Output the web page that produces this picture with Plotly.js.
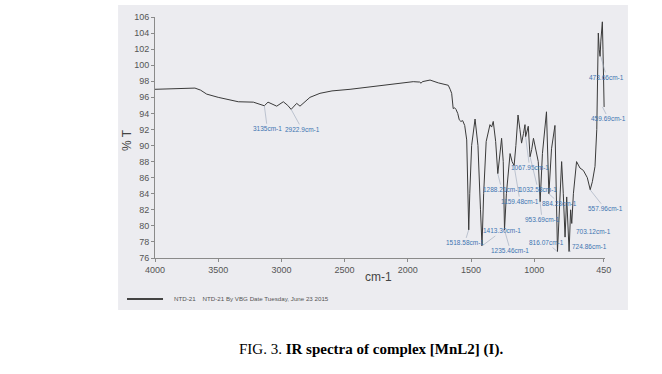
<!DOCTYPE html>
<html><head><meta charset="utf-8">
<script src="https://cdn.plot.ly/plotly-3.0.1.min.js"></script>
<style>html,body{margin:0;padding:0;background:#fff}#chart{width:662px;height:374px}</style>
</head><body><div id="chart"></div>
<script>
// Wavenumber (cm-1) and transmittance (%T)
const wavenumbers = [4000,3900,3800,3700,3684,3640,3591,3500,3400,3341,3222,3160,3135,3106,3070,3037,2985,2950,2923,2900,2879,2853,2820,2774,2695,2600,2457,2300,2194,2050,1957,1905,1895,1885,1824,1759,1700,1680,1665,1653,1641,1630,1619,1605,1593,1580,1566,1550,1534,1525,1518,1510,1495,1468,1445,1425,1413,1400,1380,1350,1337,1324,1305,1288,1270,1258,1245,1235,1220,1191,1175,1159,1145,1128,1113,1100,1085,1073,1068,1047,1033,1020,1006,985,968,953,935,903,884,863,845,836,816,800,783,770,756,743,730,724,712,703,690,665,638,611,580,557,540,519,505,493,486,479,473,466,461,456,453,447];
const transmittance = [97.0,97.05,97.1,97.15,97.15,96.9,96.4,96.0,95.7,95.45,95.4,95.1,94.95,95.4,95.1,94.9,95.45,95.0,94.5,94.9,95.25,94.9,95.4,96.0,96.5,96.8,97.0,97.3,97.5,97.8,97.95,97.9,97.75,97.95,98.15,97.8,97.6,97.5,97.0,96.5,94.6,94.7,94.5,94.0,93.2,93.0,93.1,92.5,90.7,85.0,79.5,84.0,90.0,93.3,90.0,82.0,77.5,84.0,90.5,92.6,92.3,93.0,90.5,86.5,89.5,90.9,88.0,79.5,84.0,89.0,88.0,87.5,90.0,93.8,92.0,90.3,91.5,92.6,91.1,92.4,88.6,89.5,90.9,89.0,88.0,83.0,89.0,94.2,84.0,89.6,91.5,92.5,76.8,82.0,88.0,84.0,78.6,83.6,80.0,76.8,82.0,80.3,84.0,88.0,87.2,86.9,86.0,84.5,85.5,87.4,92.0,104.0,102.0,101.1,103.0,104.8,105.4,102.0,100.2,94.8];

// peak labels: wavenumber, transmittance at the band, text
const peakWn = [3135,2922.9,1518.58,1413.30,1288.21,1235.46,1159.48,1067.95,1032.58,953.69,884.23,816.07,724.86,703.12,557.96,473.66,459.69];
const peakT  = [94.95,94.5,79.5,77.5,86.5,79.5,87.5,91.1,88.6,83.0,84.0,76.8,76.8,80.3,84.5,101.1,94.8];
const peakText = ['3135cm-1','2922.9cm-1','1518.58cm-1','1413.30cm-1','1288.21cm-1','1235.46cm-1','1159.48cm-1','1067.95cm-1','1032.58cm-1','953.69cm-1','884.23cm-1','816.07cm-1','724.86cm-1','703.12cm-1','557.96cm-1','473.66cm-1','459.69cm-1'];

// label text positions (pixel offsets from band), styling only
const labelOffset = [[3,23],[11,20],[-4,13],[20,-15],[4,16],[6,21],[6,36],[4,31],[8,33],[2,18],[11,10],[-11,-9],[21,-5],[22,8],[15,19],[6,21],[6,12]];

const xTicks = [4000,3500,3000,2500,2000,1500,1000,450];
const yTicks = [76,78,80,82,84,86,88,90,92,94,96,98,100,102,104,106];

const trace = {
  x: wavenumbers, y: transmittance, type: 'scatter', mode: 'lines',
  name: 'NTD-21', line: {color: '#3a3a3a', width: 1}, showlegend: false
};

const annotations = peakWn.map((w, i) => ({
  x: w, y: peakT[i], xref: 'x', yref: 'y', text: peakText[i],
  showarrow: true, arrowhead: 0, arrowwidth: 0.6, arrowcolor: '#9aa6b8',
  ax: labelOffset[i][0], ay: labelOffset[i][1],
  font: {family: 'Liberation Sans, Arial', size: 6.5, color: '#3d74b0'}
}));

annotations.push(
  {xref: 'paper', yref: 'paper', x: 0.48, y: -0.378, xanchor: 'center', yanchor: 'middle',
   showarrow: false, text: 'FIG. 3. <b>IR spectra of complex [MnL2] (I).</b>',
   font: {family: 'Liberation Serif, Times New Roman', size: 15, color: '#000'}},
  {xref: 'paper', yref: 'paper', x: 0.4956, y: -0.079, xanchor: 'center', yanchor: 'middle',
   showarrow: false, text: 'cm-1', font: {size: 12, color: '#444'}},
  {xref: 'paper', yref: 'paper', x: -0.062, y: 0.49, xanchor: 'center', yanchor: 'middle',
   showarrow: false, text: '% T', textangle: -90, font: {size: 12, color: '#444'}},
  {xref: 'paper', yref: 'paper', x: 0.0378, y: -0.170, xanchor: 'left', yanchor: 'middle',
   showarrow: false, text: 'NTD-21&nbsp;&nbsp;&nbsp;&nbsp;NTD-21 By VBG Date Tuesday, June 23 2015',
   font: {size: 6.2, color: '#555'}}
);

const layout = {
  width: 662, height: 374,
  margin: {l: 155, r: 57, t: 17, b: 116},
  paper_bgcolor: '#ffffff', plot_bgcolor: 'rgba(0,0,0,0)',
  font: {family: 'Liberation Sans, Arial', color: '#555'},
  xaxis: {
    range: [4000, 440], tickvals: xTicks, ticktext: xTicks.map(String),
    showgrid: false, zeroline: false, showline: true, linecolor: '#8a8a8a', linewidth: 1,
    ticks: 'outside', ticklen: 3, tickcolor: '#8a8a8a', tickfont: {size: 9, color: '#555'}
  },
  yaxis: {
    range: [76, 106], tickvals: yTicks, ticktext: yTicks.map(String),
    showgrid: false, zeroline: false, showline: true, linecolor: '#8a8a8a', linewidth: 1,
    ticks: 'outside', ticklen: 3, tickcolor: '#8a8a8a', tickfont: {size: 9, color: '#555'}
  },
  showlegend: false,
  shapes: [
    {type: 'rect', xref: 'paper', yref: 'paper', x0: -0.082, x1: 1.051, y0: -0.216, y1: 1.05,
     fillcolor: '#ececf0', line: {width: 0}, layer: 'below'},
    {type: 'line', xref: 'paper', yref: 'paper', x0: -0.0622, x1: 0.0178, y0: -0.170, y1: -0.170,
     line: {color: '#444', width: 2}}
  ],
  annotations: annotations
};

Plotly.newPlot('chart', [trace], layout, {displayModeBar: false, staticPlot: true});
</script></body></html>
